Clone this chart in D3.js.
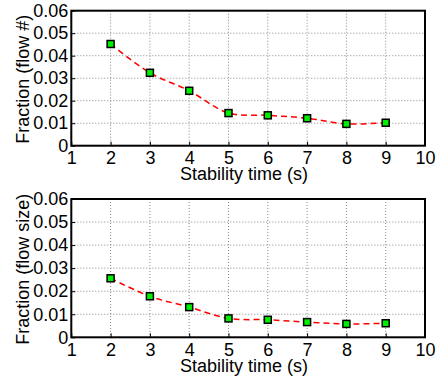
<!DOCTYPE html>
<html>
<head>
<meta charset="utf-8">
<script src="https://cdn.jsdelivr.net/npm/d3@7"></script>
<style>
  body { margin: 0; background: #fff; }
  svg { display: block; font-family: "Liberation Sans", Arial, sans-serif; }
</style>
</head>
<body>
<div id="chart"></div>
<script>
// stability time (s)
const times = [2, 3, 4, 5, 6, 7, 8, 9];
// fraction by flow count
const fracFlowNum = [0.0452, 0.0324, 0.0244, 0.0145, 0.0135, 0.0122, 0.0097, 0.0102];
// fraction by flow size
const fracFlowSize = [0.0256, 0.0178, 0.0131, 0.0082, 0.0076, 0.0066, 0.0058, 0.0061];
const xTicks = [1, 2, 3, 4, 5, 6, 7, 8, 9, 10];
const yTicks = [0, 0.01, 0.02, 0.03, 0.04, 0.05, 0.06];

const width = 436, height = 377;
const svg = d3.select("#chart").append("svg")
    .attr("width", width)
    .attr("height", height);

function drawPanel(top, bottom, values, yLabel) {
  const x = d3.scaleLinear().domain([1, 10]).range([71.3, 425]);
  const y = d3.scaleLinear().domain([0, 0.06]).range([bottom, top]);
  const g = svg.append("g");

  // grid
  g.selectAll(".vgrid").data(xTicks.slice(1, -1)).enter().append("line")
    .attr("x1", d => x(d)).attr("x2", d => x(d))
    .attr("y1", top).attr("y2", bottom)
    .attr("stroke", "#888").attr("stroke-width", 1)
    .attr("stroke-dasharray", "1,2");
  g.selectAll(".hgrid").data(yTicks.slice(1, -1)).enter().append("line")
    .attr("x1", x(1)).attr("x2", x(10))
    .attr("y1", d => y(d)).attr("y2", d => y(d))
    .attr("stroke", "#888").attr("stroke-width", 1)
    .attr("stroke-dasharray", "1,2");

  // axes, ticks inward
  g.append("g").attr("transform", `translate(0,${bottom})`)
    .call(d3.axisBottom(x).tickValues(xTicks).tickSize(-4).tickPadding(6).tickFormat(d3.format("d")))
    .call(a => a.select(".domain").remove())
    .call(a => a.selectAll("text").attr("font-size", 18).attr("fill", "#000").attr("font-family", "Liberation Sans, Arial, sans-serif"))
    .call(a => a.selectAll("line").attr("stroke", "#000"));
  g.append("g").attr("transform", `translate(${x(1)},0)`)
    .call(d3.axisLeft(y).tickValues(yTicks).tickSize(-4).tickPadding(3).tickFormat(d => d === 0 ? "0" : d3.format(".2f")(d)))
    .call(a => a.select(".domain").remove())
    .call(a => a.selectAll("text").attr("font-size", 18).attr("fill", "#000").attr("font-family", "Liberation Sans, Arial, sans-serif"))
    .call(a => a.selectAll("line").attr("stroke", "#000"));

  // frame
  g.append("rect")
    .attr("x", x(1)).attr("y", top)
    .attr("width", x(10) - x(1)).attr("height", bottom - top)
    .attr("fill", "none").attr("stroke", "#000").attr("stroke-width", 2);

  // line
  const line = d3.line()
    .x((d, i) => x(times[i]))
    .y(d => y(d))
    .curve(d3.curveCatmullRom);
  g.append("path").datum(values)
    .attr("d", line)
    .attr("fill", "none")
    .attr("stroke", "#ff0000")
    .attr("stroke-width", 1.5)
    .attr("stroke-dasharray", "6,4");

  // markers
  g.selectAll(".pt").data(values).enter().append("rect")
    .attr("x", (d, i) => x(times[i]) - 3.5)
    .attr("y", d => y(d) - 3.5)
    .attr("width", 7).attr("height", 7)
    .attr("fill", "#00ee00")
    .attr("stroke", "#000").attr("stroke-width", 1.5);

  // labels
  g.append("text")
    .attr("x", 244).attr("y", bottom + 34.5)
    .attr("text-anchor", "middle")
    .attr("font-size", 18)
    .text("Stability time (s)");
  g.append("text")
    .attr("transform", `translate(29,${(top + bottom) / 2 + 1}) rotate(-90)`)
    .attr("text-anchor", "middle")
    .attr("font-size", 18)
    .text(yLabel);
}

drawPanel(10.7, 145.7, fracFlowNum, "Fraction (flow #)");
drawPanel(199, 337.3, fracFlowSize, "Fraction (flow size)");
</script>
</body>
</html>
